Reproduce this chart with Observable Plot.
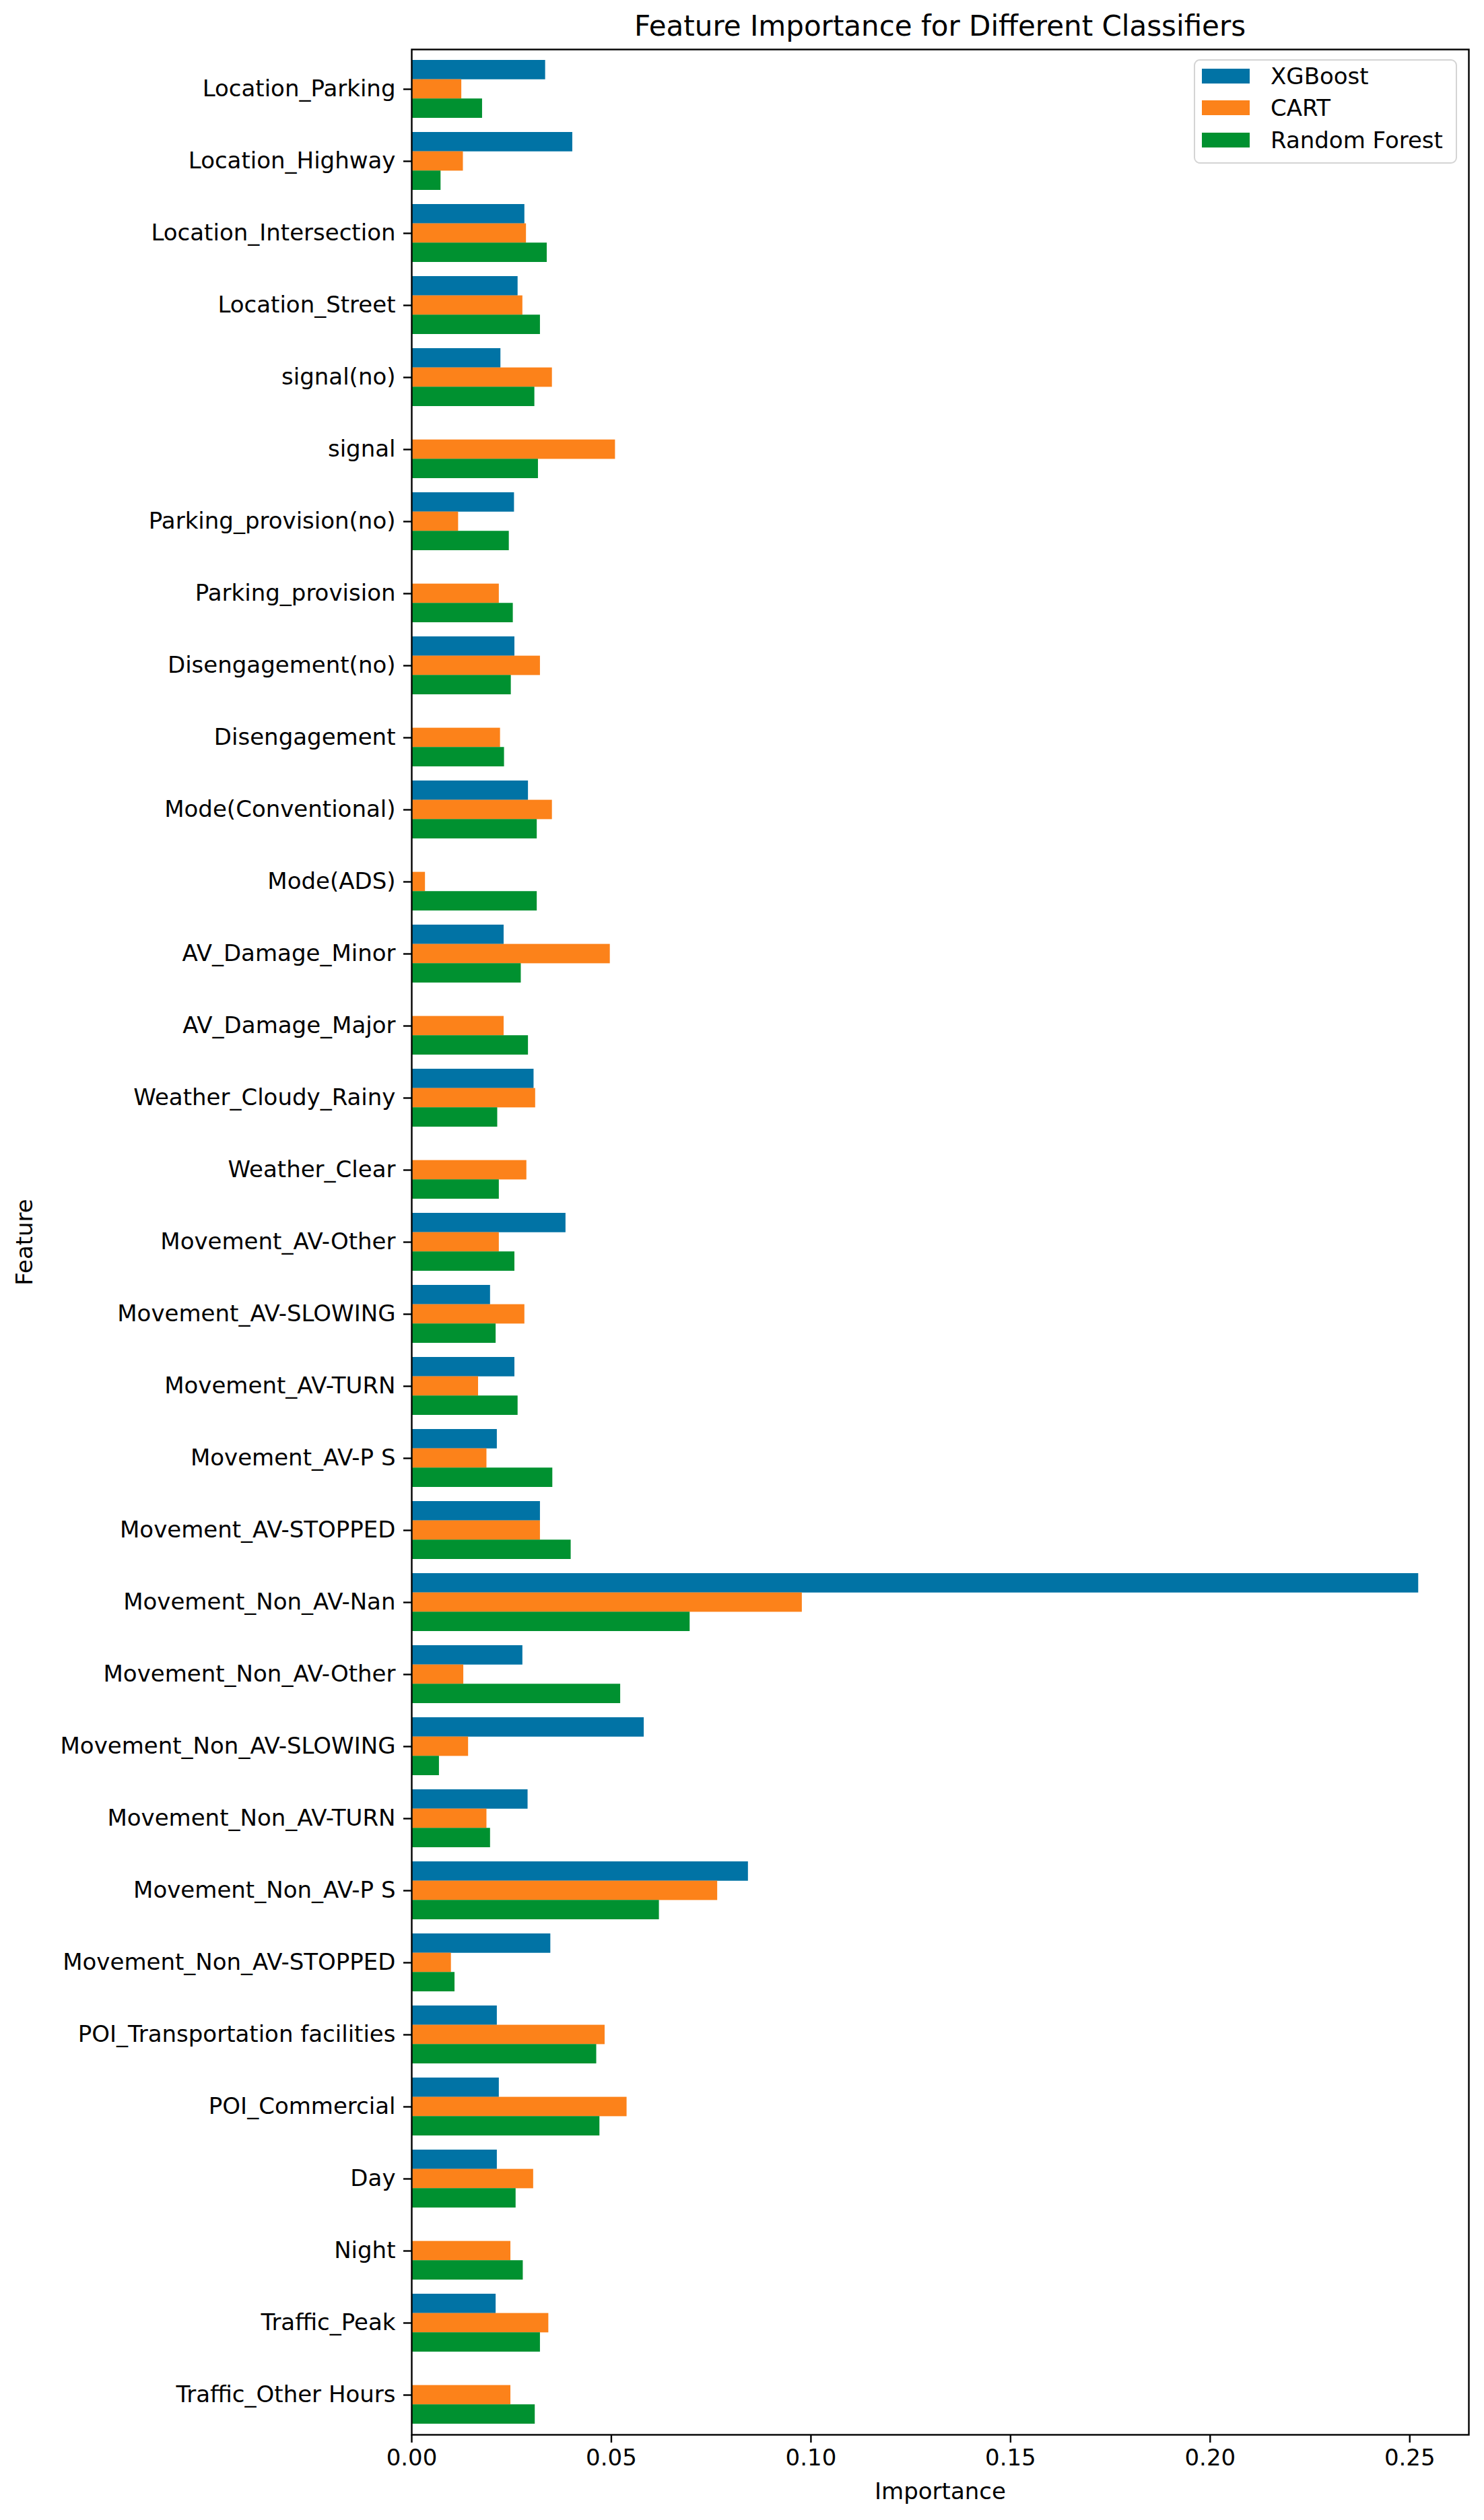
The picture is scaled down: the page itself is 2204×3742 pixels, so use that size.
<!DOCTYPE html>
<html>
<head>
<meta charset="utf-8">
<script src="https://cdn.jsdelivr.net/npm/d3@7"></script>
<script src="https://cdn.jsdelivr.net/npm/@observablehq/plot@0.6"></script>
<style>
  html, body { margin: 0; padding: 0; background: #fff; }
  #page { position: relative; width: 2204px; height: 3742px; font-family: "DejaVu Sans", sans-serif; color: #000; }
  #title { position: relative; width: 2204px; height: 60px; }
  #title span { position: absolute; left: 1396px; top: 38px; transform: translate(-50%, -50%); font-size: 42px; white-space: nowrap; }
  #legend { position: absolute; left: 1773px; top: 88px; width: 387px; height: 151px; border: 2px solid #d4d4d4; border-radius: 9px; background: rgba(255,255,255,0.8); }
  .row { position: absolute; left: 0; height: 30px; }
  .sw { position: absolute; left: 10px; width: 71px; height: 22px; }
  .lb { position: absolute; left: 112px; font-size: 34px; white-space: nowrap; line-height: 1; }
</style>
</head>
<body>
<div id="page">
  <div id="title"><span>Feature Importance for Different Classifiers</span></div>
  <div id="chart"></div>
  <div id="legend"></div>
</div>
<script>
// ---- data ----
const features = [
  "Location_Parking", "Location_Highway", "Location_Intersection", "Location_Street",
  "signal(no)", "signal", "Parking_provision(no)", "Parking_provision",
  "Disengagement(no)", "Disengagement", "Mode(Conventional)", "Mode(ADS)",
  "AV_Damage_Minor", "AV_Damage_Major", "Weather_Cloudy_Rainy", "Weather_Clear",
  "Movement_AV-Other", "Movement_AV-SLOWING", "Movement_AV-TURN", "Movement_AV-P S",
  "Movement_AV-STOPPED", "Movement_Non_AV-Nan", "Movement_Non_AV-Other", "Movement_Non_AV-SLOWING",
  "Movement_Non_AV-TURN", "Movement_Non_AV-P S", "Movement_Non_AV-STOPPED", "POI_Transportation facilities",
  "POI_Commercial", "Day", "Night", "Traffic_Peak", "Traffic_Other Hours"
];
const xgboost = [
  0.0335, 0.0403, 0.0283, 0.0266,
  0.0223, 0, 0.0257, 0,
  0.0258, 0, 0.0292, 0,
  0.0231, 0, 0.0306, 0,
  0.0386, 0.0197, 0.0258, 0.0214,
  0.0322, 0.2522, 0.0278, 0.0582,
  0.0291, 0.0843, 0.0348, 0.0214,
  0.0219, 0.0214, 0, 0.0211, 0
];
const cart = [
  0.0125, 0.0129, 0.0287, 0.0278,
  0.0352, 0.0510, 0.0117, 0.0219,
  0.0322, 0.0222, 0.0352, 0.0034,
  0.0497, 0.0231, 0.0310, 0.0288,
  0.0219, 0.0283, 0.0167, 0.0188,
  0.0322, 0.0978, 0.0130, 0.0142,
  0.0188, 0.0766, 0.0099, 0.0484,
  0.0539, 0.0305, 0.0248, 0.0343, 0.0248
];
const randomForest = [
  0.0177, 0.0073, 0.0339, 0.0322,
  0.0308, 0.0317, 0.0244, 0.0254,
  0.0249, 0.0232, 0.0314, 0.0314,
  0.0274, 0.0292, 0.0215, 0.0219,
  0.0258, 0.0211, 0.0266, 0.0353,
  0.0399, 0.0697, 0.0523, 0.0069,
  0.0197, 0.0620, 0.0108, 0.0463,
  0.0471, 0.0261, 0.0279, 0.0322, 0.0309
];
const models = ["XGBoost", "CART", "Random Forest"];
const colors = ["#0173a5", "#fc821a", "#009130"];
const xTicks = [0, 0.05, 0.10, 0.15, 0.20, 0.25];
const xMax = 0.2648;

// ---- layout ----
const W = 2204, svgH = 3682;
const mTop = 13, mBottom = 127, mLeft = 611, mRight = 23;
const fs = 34;
const step = (svgH - mTop - mBottom) / features.length;
const third = step * 0.8 / 3;

const series = [xgboost, cart, randomForest];
const rows = features.map((f, i) => ({feature: f, v: series.map(s => s[i])}));

const barMarks = models.map((m, k) => Plot.barX(rows, {
  x: d => d.v[k],
  y: "feature",
  fill: colors[k],
  insetTop: k * third,
  insetBottom: (2 - k) * third
}));

const chart = Plot.plot({
  width: W,
  height: svgH,
  marginTop: mTop,
  marginBottom: mBottom,
  marginLeft: mLeft,
  marginRight: mRight,
  style: {fontFamily: "DejaVu Sans", fontSize: fs + "px", color: "#000", background: "#fff"},
  x: {domain: [0, xMax]},
  y: {domain: features, paddingInner: 0.2, paddingOuter: 0.1},
  marks: [
    ...barMarks,
    Plot.axisX({ticks: xTicks, tickFormat: d3.format(".2f"), tickSize: 12, tickPadding: 9, strokeWidth: 2.4, label: null, fontSize: fs}),
    Plot.axisY({tickSize: 12, tickPadding: 12, strokeWidth: 2.4, label: null, fontSize: fs}),
    Plot.frame({stroke: "#000", strokeWidth: 2.4}),
    Plot.text(["Importance"], {text: d => d, frameAnchor: "bottom", lineAnchor: "middle", dy: 85, fontSize: fs}),
    Plot.text(["Feature"], {text: d => d, frameAnchor: "left", textAnchor: "middle", lineAnchor: "middle", rotate: -90, dx: -574, fontSize: fs})
  ]
});
document.getElementById("chart").appendChild(chart);

// ---- legend ----
const legend = document.getElementById("legend");
const rowTops = [12, 59, 107];
models.forEach((m, k) => {
  const r = document.createElement("div");
  r.className = "row";
  r.style.top = rowTops[k] + "px";
  r.innerHTML = `<div class="sw" style="background:${colors[k]};top:0px"></div><div class="lb" style="top:-6px">${m}</div>`;
  legend.appendChild(r);
});
</script>
</body>
</html>
